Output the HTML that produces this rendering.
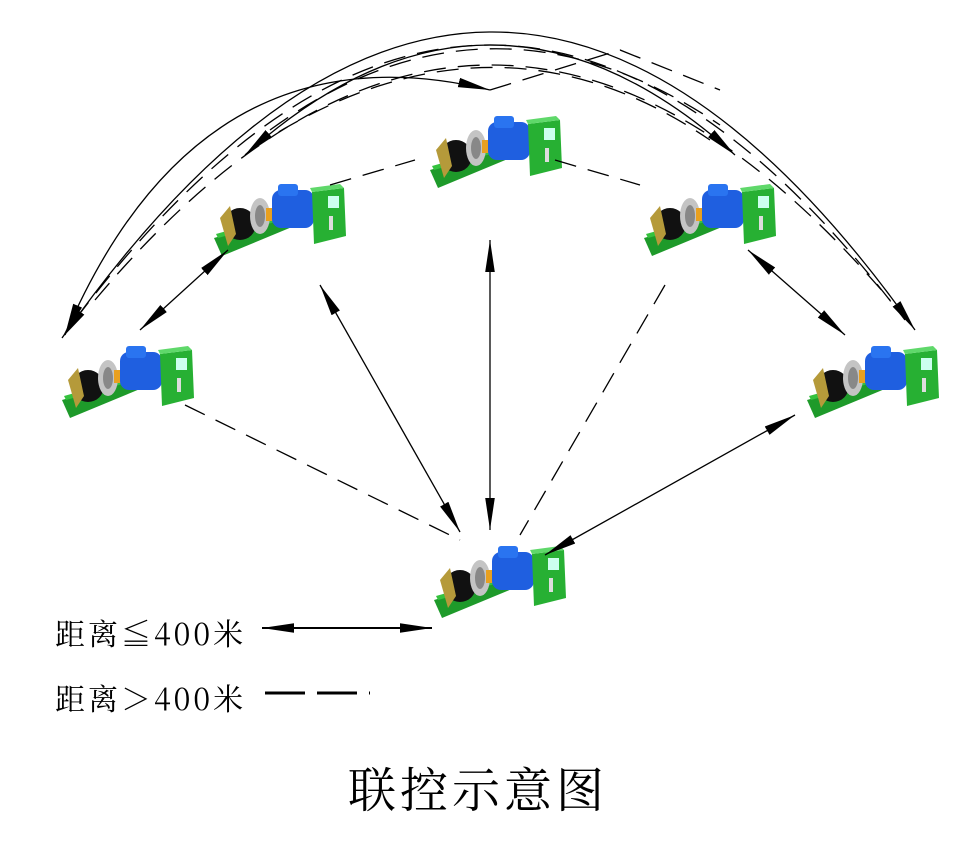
<!DOCTYPE html>
<html><head><meta charset="utf-8"><style>
html,body{margin:0;padding:0;background:#fff;}
body{width:980px;height:851px;overflow:hidden;position:relative;font-family:"Liberation Serif","Noto Serif CJK SC",serif;}
.t{position:absolute;color:#000;white-space:nowrap;font-family:"Noto Serif CJK SC",serif;}
</style></head><body>
<svg width="980" height="851" style="position:absolute;left:0;top:0">
<defs>
<marker id="a" viewBox="0 0 30 10" refX="30" refY="5" markerWidth="32" markerHeight="11" markerUnits="userSpaceOnUse" orient="auto-start-reverse"><path d="M0,0.5 L30,5 L0,9.5 Z" fill="#000"/></marker>
<g id="m">
<polygon points="22,66 104,42 112,50 30,84" fill="#1e9a2a"/>
<polygon points="24,62 102,40 104,44 26,66" fill="#35c23e"/>
<ellipse cx="48" cy="52" rx="16" ry="16" fill="#111"/>
<path d="M28,46 L38,34 L44,62 L36,74 Z" fill="#b59a3a"/>
<ellipse cx="68" cy="44" rx="10" ry="18" fill="#c4c4c4"/>
<ellipse cx="68" cy="44" rx="5" ry="11" fill="#888"/>
<rect x="74" y="36" width="9" height="13" fill="#e8a020"/>
<rect x="80" y="18" width="42" height="38" rx="9" fill="#1f5fe0"/>
<rect x="86" y="12" width="20" height="12" rx="3" fill="#2a74f0"/>
<polygon points="120,20 152,16 154,64 122,72" fill="#27b033"/>
<polygon points="120,20 152,16 148,12 118,16" fill="#5fd86a"/>
<rect x="136" y="24" width="11" height="12" fill="#cfe"/>
<rect x="137" y="44" width="4" height="14" fill="#ddd"/>
</g>
</defs>
<use href="#m" x="408" y="104"/>
<use href="#m" x="192" y="172"/>
<use href="#m" x="622" y="172"/>
<use href="#m" x="40" y="334"/>
<use href="#m" x="785" y="334"/>
<use href="#m" x="412" y="534"/>
<g fill="none" stroke="#000" stroke-width="1.3">
<path d="M65,335 Q200,20 490,90" marker-start="url(#a)" marker-end="url(#a)"/>
<path d="M62,338 Q490,-270 915,330" marker-start="url(#a)" marker-end="url(#a)"/>
<path d="M245,155 Q490,-65 735,155" marker-start="url(#a)" marker-end="url(#a)"/>
<path d="M140,330 L228,250" marker-start="url(#a)" marker-end="url(#a)"/>
<path d="M748,250 L845,335" marker-start="url(#a)" marker-end="url(#a)"/>
<path d="M320,285 L460,532" marker-start="url(#a)" marker-end="url(#a)"/>
<path d="M490,240 L490,530" marker-start="url(#a)" marker-end="url(#a)"/>
<path d="M795,415 L545,555" marker-start="url(#a)" marker-end="url(#a)"/>
<path d="M262,628 L432,628" marker-start="url(#a)" marker-end="url(#a)" stroke-width="2"/>
</g>
<g fill="none" stroke="#000" stroke-width="1.3" stroke-dasharray="22,12">
<path d="M75,320 Q490,-230 905,320"/>
<path d="M95,300 Q490,-170 890,300"/>
<path d="M270,130 Q490,-30 720,125"/>
<path d="M250,150 Q490,-10 710,140"/>
<path d="M490,90 L620,50 L720,90"/>
<path d="M185,405 L460,540"/>
<path d="M665,285 L520,535"/>
<path d="M330,185 L415,160"/>
<path d="M555,160 L640,185"/>
</g>
<path d="M265,693 L370,693" stroke="#000" stroke-width="3" stroke-dasharray="40,12" fill="none"/>
</svg>
<div class="t" style="left:55px;top:610px;font-size:30px;letter-spacing:3px;">距离≦400米</div>
<div class="t" style="left:55px;top:675px;font-size:30px;letter-spacing:3px;">距离＞400米</div>
<div class="t" style="left:348px;top:752px;font-size:48px;letter-spacing:4px;">联控示意图</div>
</body></html>
